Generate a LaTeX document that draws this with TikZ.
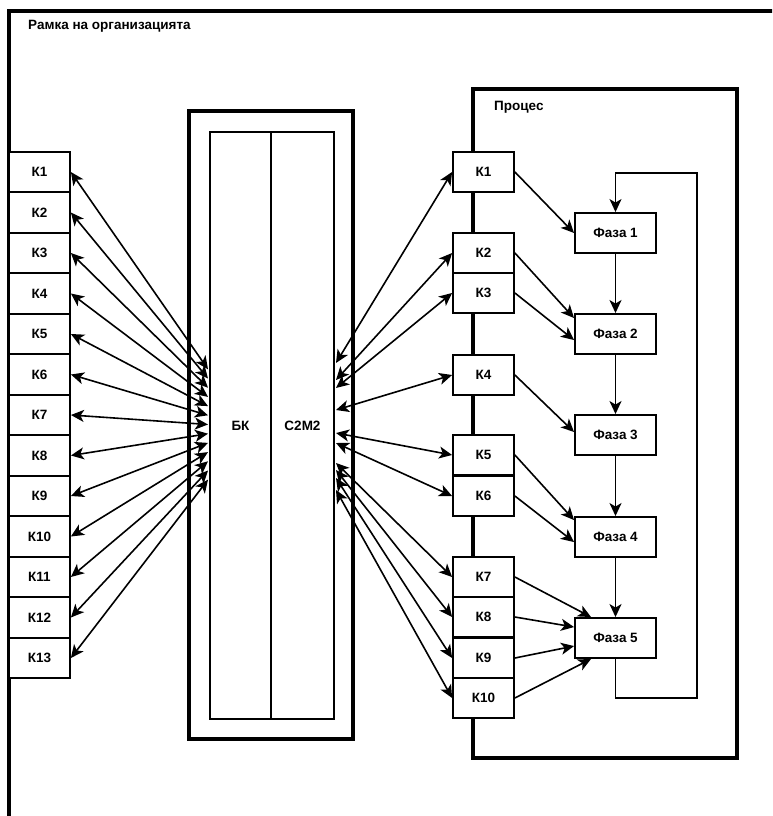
\documentclass[tikz,border=0pt]{standalone}
\usepackage{fontspec}
\setmainfont{Liberation Sans}
\usetikzlibrary{arrows.meta,calc}
\tikzset{
  lbl/.style={font=\bfseries\fontsize{13.5}{15}\selectfont},
  kbox/.style={draw, line width=1.8pt, fill=white, minimum width=61pt, minimum height=40.5pt, inner sep=0pt, lbl},
  rkbox/.style={draw, line width=1.8pt, fill=white, minimum width=61pt, minimum height=40.5pt, inner sep=0pt, lbl},
  phbox/.style={draw, line width=1.9pt, fill=white, minimum width=81pt, minimum height=40pt, inner sep=0pt, lbl},
  colbox/.style={draw, line width=2pt, minimum height=587pt, inner sep=0pt, lbl},
  tip/.tip={Stealth[length=13pt,width=12pt,inset=3.5pt]},
  arr/.style={line width=1.6pt, -tip},
  biarr/.style={line width=1.6pt, tip-tip},
  thick frame/.style={line width=3.2pt}
}
\begin{document}
\begin{tikzpicture}[x=1pt,y=-1pt]
\useasboundingbox (0,0) rectangle (772,816);
\clip (0,0) rectangle (772,816);
% organisation frame
\draw[thick frame] (9,830) -- (9,11) -- (790,11);
\node[lbl, anchor=west, inner sep=0pt] (title) at (28,26) {Рамка на организацията};
% process frame
\draw[thick frame] (473,89) rectangle (737,758);
\node[lbl, anchor=west, inner sep=0pt] (proc) at (494,107) {Процес};
% central double box
\draw[thick frame] (189,111) rectangle (353,739);
\node[colbox, minimum width=61pt] (BK) at (240.5,425.5) {БК};
\node[colbox, minimum width=63pt] (CM) at (302.5,425.5) {C2M2};
% left K boxes
\foreach \i in {1,...,13} {
  \node[kbox] (L\i) at (39.5,{172+40.5*(\i-1)}) {К\i};
  \coordinate (bl\i) at ($(BK.west)+(-1,{(\i-7)*9.2-1})$);
  \draw[biarr] (L\i.east) -- (bl\i);
}
% right K boxes
\foreach \i/\y/\t in {1/172/363,2/253/380,3/293/388,4/375/410,5/455/433,6/496/443,7/577/463,8/617/470,9/658/478,10/698/490} {
  \node[rkbox] (R\i) at (483.5,\y) {К\i};
  \coordinate (cr\i) at ($(CM.east)+(1,{\t-425.5})$);
  \draw[biarr] (cr\i) -- (R\i.west);
}
% phases
\foreach \i/\y in {1/233,2/334,3/435,4/537,5/638} {
  \node[phbox] (F\i) at (615.5,\y) {Фаза \i};
}
\foreach \a/\b in {1/2,2/3,3/4,4/5} {
  \draw[arr] (F\a) -- (F\b);
}
% feedback loop
\coordinate (lb) at (697,698);
\coordinate (lt) at (697,173);
\draw[line width=1.4pt, -tip] (F5.south) |- (lb) -- (lt) -| (F1.north);
% K -> phase
\draw[arr] (R1.east) -- (F1.west);
\draw[arr] (R2.east) -- ($(F2.north west)+(0,5)$);
\draw[arr] (R3.east) -- ($(F2.north west)+(0,27)$);
\draw[arr] (R4.east) -- ($(F3.west)+(0,-3)$);
\draw[arr] (R5.east) -- ($(F4.north west)+(0,4)$);
\draw[arr] (R6.east) -- ($(F4.north west)+(0,26)$);
\draw[arr] (R7.east) -- ($(F5.north west)+(17,0)$);
\draw[arr] (R8.east) -- ($(F5.north west)+(0,10)$);
\draw[arr] (R9.east) -- ($(F5.north west)+(0,29)$);
\draw[arr] (R10.east) -- ($(F5.south west)+(17,0)$);
\end{tikzpicture}
\end{document}
